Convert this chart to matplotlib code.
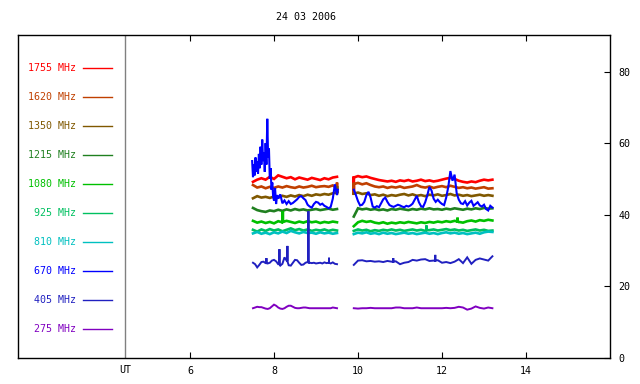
import numpy as np
import matplotlib.pyplot as plt
import matplotlib.transforms as mtransforms

title = "24 03 2006"
freqs = ["1755", "1620", "1350", "1215", "1080", "925", "810", "670", "405", "275"]
colors = ["#ff0000", "#c04000", "#805800", "#208020", "#00c000",
          "#00c060", "#00c0c0", "#0000ff", "#2020c0", "#8000c0"]
xticks = [6, 8, 10, 12, 14]
yticks = [0, 20, 40, 60, 80]

# time grids (UT hours) of the two recording segments
t1 = np.round(np.arange(7.5, 9.501, 0.1), 2)
t2 = np.round(np.arange(9.9, 13.201, 0.1), 2)
t1f = np.round(np.arange(7.5, 9.501, 0.05), 2)
t2f = np.round(np.arange(9.9, 13.201, 0.05), 2)

f1755_a = [49.2, 49.8, 50.2, 49.8, 50.6, 50.0, 51.0, 50.6, 50.2, 50.5, 49.9,
           50.4, 50.1, 49.8, 50.3, 50.0, 49.7, 50.2, 49.9, 50.4, 50.6]
f1755_b = [50.4, 50.8, 50.5, 50.7, 50.3, 50.0, 49.7, 49.5, 49.3, 49.5, 49.2, 49.6,
           49.4, 49.7, 49.3, 49.5, 49.8, 49.4, 49.6, 49.3, 49.5, 49.8, 50.1, 50.3,
           50.0, 49.5, 49.2, 49.0, 49.3, 49.1, 49.5, 49.8, 49.6, 49.8]
f1620_a = [48.3, 47.6, 47.9, 47.4, 47.8, 47.5, 47.9, 47.6, 48.0, 47.7, 47.5,
           47.9, 47.6, 47.8, 48.1, 47.7, 47.9, 48.0, 47.8, 48.2, 47.4]
f1620_b = [48.6, 48.9, 48.5, 48.8, 48.3, 47.9, 47.7, 47.9, 47.5, 47.8, 47.6, 47.9,
           47.5, 47.7, 47.9, 48.3, 47.8, 47.6, 47.9, 47.5, 47.8, 48.0, 47.7, 48.1,
           47.8, 47.5, 47.7, 47.4, 47.6, 47.3, 47.5, 47.7, 47.3, 47.4]
f1350_a = [44.6, 45.2, 44.8, 45.0, 44.7, 45.1, 44.8, 45.3, 45.0, 45.4, 45.1,
           45.5, 45.2, 45.6, 45.3, 45.7, 45.5, 45.8, 45.6, 46.0, 46.2]
f1350_b = [45.9, 46.2, 45.8, 46.0, 45.5, 45.7, 45.3, 45.6, 45.2, 45.5, 45.3, 45.6,
           45.8, 45.4, 45.7, 45.3, 45.5, 45.2, 45.6, 45.4, 45.7, 45.3, 45.5, 45.8,
           45.4, 45.6, 45.3, 45.5, 45.2, 45.4, 45.6, 45.3, 45.5, 45.3]
f1215_a = [41.9, 41.3, 41.0, 40.8, 41.2, 41.0, 41.4, 41.1, 41.5, 41.2, 41.6,
           41.3, 41.5, 41.2, 41.4, 41.6, 41.3, 41.5, 41.7, 41.4, 41.6]
f1215_b = [39.5, 41.8, 41.5, 41.7, 41.4, 41.6, 41.3, 41.5, 41.2, 41.6, 41.4, 41.7,
           41.5, 41.3, 41.6, 41.4, 41.7, 41.5, 41.8, 41.5, 41.6, 41.4, 41.7, 41.5,
           41.8, 41.6, 41.4, 41.7, 41.5, 41.8, 41.6, 41.9, 41.7, 41.8]
f1080_a = [38.3, 37.8, 38.1, 37.7, 38.0, 37.6, 38.2, 37.9, 38.3, 38.0, 37.7,
           38.1, 37.8, 38.2, 37.9, 38.1, 37.7, 38.0, 37.8, 38.1, 37.9]
f1080_b = [36.8, 37.9, 38.3, 38.0, 38.2, 37.8, 37.6, 37.9, 37.5, 37.8, 37.6, 37.9,
           37.7, 38.0, 37.8, 37.6, 37.9, 37.7, 38.0, 37.8, 38.1, 37.9, 38.2, 38.0,
           38.3, 38.0, 37.8, 38.2, 38.4, 38.1, 38.5, 38.3, 38.6, 38.4]
f925_a = [35.8, 35.3, 35.9, 35.5, 36.0, 35.6, 35.9, 35.4, 35.8, 36.2, 35.7,
          36.0, 35.6, 35.9, 35.5, 35.8, 35.6, 35.9, 35.5, 35.8, 35.6]
f925_b = [35.5, 35.9, 35.6, 35.8, 35.4, 35.7, 35.5, 35.8, 35.6, 35.9, 35.6, 35.8,
          35.5, 35.7, 35.9, 35.6, 35.8, 35.5, 35.7, 35.9, 35.6, 35.8, 36.0, 35.7,
          35.9, 35.6, 35.8, 35.5, 35.7, 35.9, 35.6, 35.8, 35.5, 35.6]
f810_a = [34.8, 35.2, 34.7, 35.0, 34.6, 35.1, 34.8, 35.3, 34.9, 35.5, 35.1,
          34.8, 35.2, 34.9, 35.0, 34.7, 35.1, 34.8, 35.0, 34.7, 34.9]
f810_b = [34.6, 35.0, 34.8, 35.1, 34.7, 34.9, 34.6, 35.0, 34.7, 34.9, 34.6, 34.8,
          35.0, 34.7, 34.9, 34.6, 34.8, 35.0, 34.7, 34.9, 34.6, 34.9, 35.1, 34.8,
          35.0, 34.7, 34.9, 34.6, 34.8, 35.0, 34.7, 35.1, 35.3, 35.2]

t670_a = [7.48, 7.50, 7.52, 7.54, 7.56, 7.58, 7.60, 7.62, 7.64, 7.66,
          7.68, 7.70, 7.72, 7.74, 7.76, 7.78, 7.80, 7.82, 7.84, 7.86,
          7.88, 7.90, 7.92, 7.94, 7.96, 7.98, 8.00, 8.025, 8.05, 8.075,
          8.10, 8.15, 8.20, 8.25, 8.30, 8.35, 8.40, 8.45, 8.50, 8.55,
          8.60, 8.65, 8.70, 8.75, 8.80, 8.85, 8.90, 8.95, 9.00, 9.05,
          9.10, 9.15, 9.20, 9.25, 9.30, 9.35, 9.40, 9.45, 9.50, 9.52]
f670_a = [55.0, 50.5, 54.0, 51.0, 56.0, 52.0, 55.0, 51.5, 57.0, 53.0,
          59.0, 54.0, 61.0, 55.0, 57.5, 52.0, 60.0, 54.0, 66.8, 56.0,
          58.5, 50.0, 53.0, 47.0, 49.0, 45.0, 44.0, 47.5, 43.0, 45.5,
          44.5, 45.7, 43.2, 44.0, 43.0, 43.8, 43.0, 43.3, 43.8, 44.3,
          45.0, 45.2, 44.6, 44.1, 42.8, 42.3, 42.0, 43.0, 43.6, 43.4,
          42.8, 43.1, 42.5, 42.2, 41.8, 42.2, 44.5, 48.5, 45.5, 47.0]
f670_b = [47.0, 45.5, 43.8, 42.6, 42.8, 43.6, 45.5, 46.4, 44.8, 42.3,
          42.0, 42.4, 42.1, 43.2, 44.3, 44.8, 43.6, 42.7, 42.4, 42.2,
          42.5, 42.8, 42.6, 42.3, 42.1, 42.5, 42.3, 42.6, 43.1, 44.2,
          45.3, 43.5, 42.4, 42.2, 43.5, 45.4, 47.8, 46.8, 44.5, 43.6,
          44.2, 43.5, 43.0, 42.7, 44.8, 47.8, 52.2, 49.5, 51.2, 46.0,
          44.2, 43.2, 43.0, 43.8, 42.6, 43.4, 43.9, 42.5, 43.0, 43.5,
          42.6, 42.3, 42.8, 41.6, 41.2, 42.5, 42.0]

f405_a = [26.6, 26.2, 25.3, 26.0, 26.8, 26.9, 26.5, 26.4, 26.6, 27.2,
          27.4, 27.0, 26.2, 25.8, 26.3, 28.1, 27.2, 25.9, 25.8, 26.6,
          27.4, 27.3, 26.6, 26.0, 26.1, 26.6, 26.8, 26.6, 26.5, 26.6,
          26.4, 26.5, 26.6, 26.4, 26.7, 26.5, 26.6, 26.4, 26.7, 26.3, 26.2]
f405_b = [26.0, 27.2, 27.3, 27.0, 27.1, 26.9, 27.0, 26.8, 27.1, 26.9, 27.0, 26.2,
          26.6, 26.8, 27.4, 27.2, 27.5, 27.6, 27.1, 27.2, 27.3, 26.6, 26.8, 26.5,
          26.9, 27.6, 26.5, 28.1, 26.3, 27.4, 27.8, 27.5, 27.2, 28.4]
f275_a = [13.9, 14.1, 14.3, 14.2, 14.2, 14.0, 13.8, 13.7, 13.9, 14.4,
          14.9, 14.6, 14.1, 13.8, 13.7, 13.9, 14.3, 14.6, 14.6, 14.3,
          14.0, 13.9, 13.9, 14.0, 14.1, 14.1, 14.0, 13.9, 13.9, 13.9,
          13.9, 13.9, 13.9, 13.9, 13.9, 13.9, 13.9, 13.9, 14.1, 14.0, 13.9]
f275_b = [13.9, 13.8, 13.9, 13.9, 14.0, 13.9, 13.9, 13.9, 13.9, 13.9, 14.1, 14.1,
          13.9, 13.9, 13.9, 14.1, 13.9, 13.9, 13.9, 13.9, 13.9, 13.9, 14.0, 13.9,
          14.0, 14.3, 14.1, 13.5, 13.8, 14.4, 14.0, 13.8, 14.1, 13.9]

# short spikes (time, base, peak)
spikes = {
    "1755": [(9.9, 50.4, 45.6)],
    "1620": [(9.9, 48.6, 45.6), (9.5, 47.6, 49.0)],
    "1350": [(9.5, 46.0, 48.0)],
    "1080": [(8.21, 38.0, 41.0), (12.37, 38.1, 39.2)],
    "925": [(11.63, 35.7, 37.0)],
    "405": [(7.82, 26.5, 27.9), (8.13, 26.2, 30.4), (8.32, 27.0, 31.3),
            (8.82, 26.7, 41.0), (9.31, 26.6, 28.0), (10.84, 26.9, 27.9),
            (11.84, 27.2, 28.8)],
}
widths = {"670": 1.5, "405": 1.4, "275": 1.4}

plt.rcParams['font.family'] = ['DejaVu Sans Mono']
plt.rcParams['path.simplify'] = False

series = {
    "1755": [(t1, f1755_a), (t2, f1755_b)],
    "1620": [(t1, f1620_a), (t2, f1620_b)],
    "1350": [(t1, f1350_a), (t2, f1350_b)],
    "1215": [(t1, f1215_a), (t2, f1215_b)],
    "1080": [(t1, f1080_a), (t2, f1080_b)],
    "925": [(t1, f925_a), (t2, f925_b)],
    "810": [(t1, f810_a), (t2, f810_b)],
    "670": [(t670_a, f670_a), (t2f, f670_b)],
    "405": [(t1f, f405_a), (t2, f405_b)],
    "275": [(t1f, f275_a), (t2, f275_b)],
}

fig = plt.figure(figsize=(6.4, 3.84), dpi=100)
ax = fig.add_axes([18 / 640, 26 / 384, 592 / 640, 323 / 384])

for name, col in zip(freqs, colors):
    for t, v in series[name]:
        t = [float(x) for x in t]
        v = list(v)
        start, end = t[0], t[-1]
        for st, lo, hi in spikes.get(name, []):
            if start <= st <= end:
                t += [st, st, st]
                v += [lo, hi, lo]
        order = np.argsort(t, kind='stable')
        ax.plot(np.array(t)[order], np.array(v)[order], color=col,
                lw=widths.get(name, 1.9), solid_joinstyle='miter')

ax.set_xlim(1.905, 16.0)
ax.set_ylim(0, 90.2)
ax.axvline(4.45, color='#808080', lw=1)

# legend panel on the left
trans = mtransforms.blended_transform_factory(ax.transAxes, ax.transData)
for i, (name, col) in enumerate(zip(freqs, colors)):
    yy = 81.0 - 8.1 * i
    ax.text(0.098, yy, name + " MHz", color=col, fontsize=7.2, ha='right',
            va='center', transform=trans)
    ax.plot([0.11, 0.159], [yy, yy], color=col, lw=1, transform=trans)

ax.set_xticks(xticks)
ax.set_xticklabels([str(x) for x in xticks], fontsize=7.2)
ax.tick_params(axis='x', direction='in', length=4, top=True, pad=6)
ax.yaxis.tick_right()
ax.set_yticks(yticks)
ax.set_yticklabels([str(y) for y in yticks], fontsize=7.2)
ax.tick_params(axis='y', direction='in', length=4, pad=6)
ax.text(4.45, -0.022, "UT", fontsize=7.2, ha='center', va='top',
        transform=mtransforms.blended_transform_factory(ax.transData, ax.transAxes))
for s in ax.spines.values():
    s.set_linewidth(1)

fig.text(306 / 640, 1 - 17 / 384, title, fontsize=7.2, ha='center', va='center')

fig.savefig("out.png", dpi=100)
